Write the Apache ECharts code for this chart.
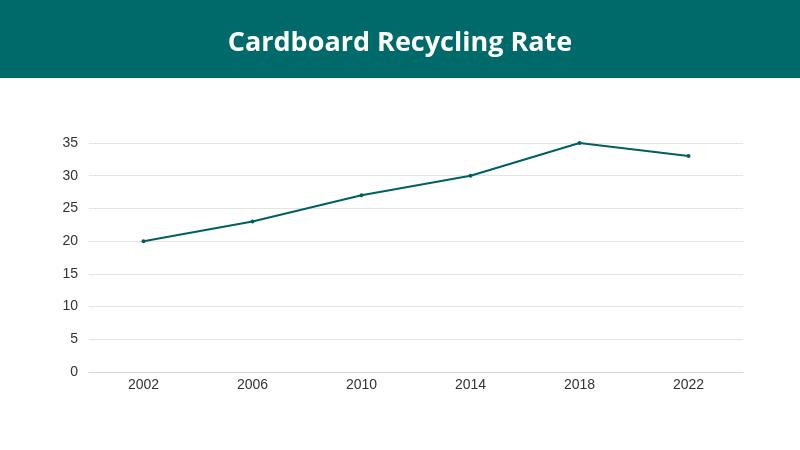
<!DOCTYPE html>
<html><head><meta charset="utf-8">
<script src="https://cdn.jsdelivr.net/npm/echarts@6/dist/echarts.min.js"></script>
<style>html,body{margin:0;padding:0;background:#fff}#c{width:800px;height:450px}</style>
</head><body><div id="c"></div>
<script>
const titleText = 'Cardboard Recycling Rate';
const years = ['2002','2006','2010','2014','2018','2022'];
const rates = [20, 23, 27, 30, 35, 33];

const chart = echarts.init(document.getElementById('c'));
chart.setOption({
  animation: false,
  backgroundColor: '#ffffff',
  graphic: [{
    type: 'rect', left: 0, top: 0, z: 0,
    shape: { width: 800, height: 78 },
    style: { fill: '#006969' }
  }],
  title: {
    text: titleText, left: 'center', top: 25,
    textStyle: { color: '#ffffff', fontFamily: 'Open Sans', fontWeight: 'bold', fontSize: 27 }
  },
  grid: { left: 89, right: 57, top: 143, bottom: 78 },
  xAxis: {
    type: 'category', data: years, boundaryGap: true,
    axisLine: { show: true, lineStyle: { color: '#d4d4d4', width: 1 } },
    axisTick: { show: false },
    axisLabel: { color: '#333333', fontSize: 14, fontFamily: 'Liberation Sans', margin: 6 }
  },
  yAxis: {
    type: 'value', min: 0, max: 35, interval: 5,
    axisLine: { show: false }, axisTick: { show: false },
    splitLine: { lineStyle: { color: '#e3e3e3', width: 1 } },
    axisLabel: { color: '#333333', fontSize: 14, fontFamily: 'Liberation Sans', margin: 11 }
  },
  series: [{
    type: 'line', data: rates,
    symbol: 'circle', symbolSize: 4,
    lineStyle: { color: '#006060', width: 2 },
    itemStyle: { color: '#006060' }
  }]
});
</script></body></html>
